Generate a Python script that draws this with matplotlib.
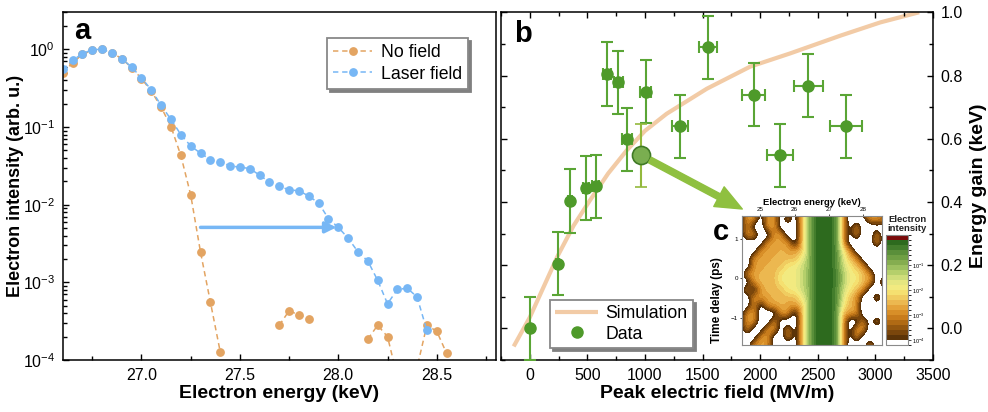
import numpy as np
import matplotlib
matplotlib.use("Agg")
import matplotlib.pyplot as plt
from matplotlib.colors import ListedColormap, BoundaryNorm
from matplotlib.ticker import MultipleLocator, FixedLocator, FormatStrFormatter

plt.rcParams['font.family'] = ['Liberation Sans', 'DejaVu Sans']
plt.rcParams['mathtext.fontset'] = 'custom'
plt.rcParams['mathtext.rm'] = 'Liberation Sans'
plt.rcParams['mathtext.it'] = 'Liberation Sans:italic'
plt.rcParams['mathtext.bf'] = 'Liberation Sans:bold'

# ---- panel a: spectra (energy grid in keV, 0.05 keV steps) ----
energy = np.round(np.arange(26.60, 28.56, 0.05), 2)
laser_field = [0.55, 0.72, 0.88, 0.99, 1.0, 0.90, 0.76, 0.59, 0.43, 0.30,
               0.19, 0.125, 0.080, 0.057, 0.046, 0.038, 0.0356, 0.0316, 0.0304, 0.0292,
               0.024, 0.0195, 0.0173, 0.0155, 0.0151, 0.0129, 0.0105, 0.0066, 0.0051, 0.0037,
               0.00247, 0.00188, 0.00106, 0.00053, 0.00081, 0.00084, 0.00065, 0.00024, np.nan, np.nan]
no_field = [0.50, 0.67, 0.86, 0.97, 1.0, 0.90, 0.76, 0.58, 0.42, 0.29,
            0.18, 0.101, 0.043, 0.0134, 0.00245, 0.00056, 0.000128, np.nan, np.nan, np.nan,
            np.nan, np.nan, 0.00028, 0.00043, 0.00038, 0.00034, np.nan, np.nan, np.nan, np.nan,
            np.nan, 0.000186, 0.00028, 0.0002, 0.00006, 0.00003, 0.00008, 0.00028, 0.000235, 0.000122]

# ---- panel b: energy gain vs peak field ----
field = [0, 243, 347, 491, 572, 671, 769, 844, 968, 1006, 1303, 1546, 1942, 2173, 2416, 2746]
field_err = [0, 12, 17, 25, 29, 34, 38, 42, 48, 50, 66, 80, 100, 111, 126, 142]
gain = [0.0, 0.205, 0.403, 0.444, 0.449, 0.805, 0.779, 0.598, 0.547, 0.749,
        0.639, 0.889, 0.739, 0.547, 0.768, 0.639]
gain_err = [0.1] * len(gain)
highlight = 8  # the point shown in the inset

sim_field = [-140, 0, 243, 380, 522, 680, 841, 1000, 1188, 1536, 1913, 2261, 2696, 3043, 3380]
sim_gain = [-0.057, 0.035, 0.23, 0.325, 0.405, 0.49, 0.563, 0.625, 0.679, 0.758,
            0.828, 0.870, 0.926, 0.968, 1.0]

# ---- panel c: coarse delay/energy map, one char per cell (log-intensity code) ----
inset_energy = np.round(np.arange(24.4, 28.61, 0.2), 1)
inset_delay = np.round(np.arange(1.7, -1.71, -0.2), 1)
inset_rows = [
    "022022000" "3699983" "002220",
    "022022020" "3699983" "000222",
    "020022000" "3699983" "020000",
    "022002200" "3699983" "020020",
    "000022220" "3699983" "000020",
    "000222322" "3699984" "200000",
    "002223333" "4699985" "320000",
    "002233344" "5699985" "432000",
    "022333444" "5699986" "443200",
    "002333444" "5699986" "443202",
    "020233344" "5699985" "432000",
    "002223333" "4699985" "320020",
    "002022322" "3699984" "320000",
    "022000220" "3699983" "220000",
    "022002000" "3699983" "002020",
    "020022020" "3699983" "022000",
    "000220020" "3699983" "020000",
    "002220000" "3699983" "000200",
]
code_log = {'0': -4.6, '1': -3.6, '2': -2.75, '3': -2.5, '4': -1.9,
            '5': -1.5, '6': -1.1, '7': -0.6, '8': -0.3, '9': -0.05}

cb_colors = ['#ffffff', '#5c3408', '#7a460c', '#94570f', '#b06a14', '#c87c1c',
             '#d88f28', '#e4a23a', '#ecb850', '#f0cc60', '#f5e070', '#f2ea80',
             '#e5e680', '#cfdd7a', '#b5cf6b', '#9dc060', '#85ad50', '#6f9f44',
             '#5a8f3a', '#437d2c', '#2d6a1e', '#7a0a0a']

orange = '#e3a462'
blue = '#77b7f5'
green = '#4e9a2a'
green_bar = '#5aa535'
peach = '#f2cba6'

fig = plt.figure(figsize=(9.88, 4.12), dpi=100)
ax_a = fig.add_axes([0.0635, 0.1262, 0.4383, 0.844])
ax_b = fig.add_axes([0.5071, 0.1262, 0.4372, 0.844])

# panel a
ax_a.plot(energy, no_field, '--o', color=orange, ms=5.3, lw=1.1, dashes=(3.5, 2.5),
          label='No field')
ax_a.plot(energy, laser_field, '--o', color=blue, ms=5.3, lw=1.1, dashes=(3.5, 2.5),
          label='Laser field')
ax_a.annotate('', xy=(27.99, 0.0051), xytext=(27.3, 0.0051),
              arrowprops=dict(arrowstyle='-|>', color=blue, lw=2.5,
                              mutation_scale=16, shrinkA=0, shrinkB=0))
ax_a.set_yscale('log')
ax_a.set_xlim(26.6, 28.8)
ax_a.set_ylim(1e-4, 3)
ax_a.xaxis.set_major_locator(FixedLocator([27.0, 27.5, 28.0, 28.5]))
ax_a.xaxis.set_major_formatter(FormatStrFormatter('%.1f'))
ax_a.xaxis.set_minor_locator(MultipleLocator(0.25))
ax_a.tick_params(which='both', direction='in', labelsize=11.5, width=1)
ax_a.tick_params(which='major', length=4.5, pad=5.5)
ax_a.tick_params(which='minor', length=3)
ax_a.set_xlabel('Electron energy (keV)', fontsize=14, fontweight='bold', labelpad=2)
ax_a.set_ylabel('Electron intensity (arb. u.)', fontsize=13, fontweight='bold', labelpad=-1)
ax_a.text(0.026, 0.922, 'a', transform=ax_a.transAxes, fontsize=21,
          fontweight='bold', va='baseline', ha='left')
leg = ax_a.legend(loc='upper right', bbox_to_anchor=(0.936, 0.926), fontsize=12.7,
                  fancybox=False, edgecolor='#888888', framealpha=1,
                  shadow={'color': '0.5', 'alpha': 1}, handlelength=2.2,
                  borderpad=0.35, labelspacing=0.25, handletextpad=0.5,
                  borderaxespad=0)
leg.get_frame().set_linewidth(1.3)

# panel b
ax_b.plot(sim_field, sim_gain, color=peach, lw=3, solid_capstyle='butt', zorder=1,
          label='Simulation')
idx = [i for i in range(len(field)) if i != highlight]
data = ax_b.errorbar([field[i] for i in idx], [gain[i] for i in idx],
                     yerr=[gain_err[i] for i in idx], xerr=[field_err[i] for i in idx],
                     fmt='o', ms=8, color=green, ecolor=green_bar, elinewidth=1.5,
                     capsize=4, capthick=1.5, zorder=3)
ax_b.errorbar([field[highlight]], [gain[highlight]], yerr=[gain_err[highlight]],
              xerr=[field_err[highlight]], fmt='o', ms=13, mfc='#7aae50',
              mec='#3f7a25', mew=1.2, ecolor='#93b93c', elinewidth=1.5,
              capsize=4, capthick=1.5, zorder=4)
ax_b.annotate('', xy=(0.7513, 0.4927), xycoords='figure fraction',
              xytext=(field[highlight], gain[highlight]), textcoords='data',
              arrowprops=dict(arrowstyle='simple,head_length=1.9,head_width=1.6,tail_width=0.45',
                              color='#8fc040', mutation_scale=10, shrinkA=7, shrinkB=0),
              zorder=5)
ax_b.set_xlim(-250, 3500)
ax_b.set_ylim(-0.1, 1.0)
ax_b.xaxis.set_major_locator(MultipleLocator(500))
ax_b.xaxis.set_minor_locator(MultipleLocator(250))
ax_b.yaxis.set_major_locator(MultipleLocator(0.2))
ax_b.yaxis.set_minor_locator(MultipleLocator(0.1))
ax_b.yaxis.set_major_formatter(FormatStrFormatter('%.1f'))
ax_b.yaxis.set_label_position('right')
ax_b.tick_params(which='both', direction='in', labelsize=11.5, width=1,
                 top=True, left=True, right=True, labelleft=False, labelright=True)
ax_b.tick_params(which='major', length=4.5, pad=5.5)
ax_b.tick_params(which='minor', length=3)
ax_b.set_xlabel('Peak electric field (MV/m)', fontsize=14, fontweight='bold', labelpad=2)
ax_b.set_ylabel('Energy gain (keV)', fontsize=14, fontweight='bold', labelpad=5)
ax_b.text(0.030, 0.915, 'b', transform=ax_b.transAxes, fontsize=21,
          fontweight='bold', va='baseline', ha='left')
leg_b = ax_b.legend(handles=[ax_b.lines[0], data[0]], labels=['Simulation', 'Data'],
                    loc='lower left', bbox_to_anchor=(0.113, 0.035), fontsize=12.7,
                    fancybox=False, edgecolor='#888888', framealpha=1,
                    shadow={'color': '0.5', 'alpha': 1}, handlelength=2.45,
                    borderpad=0.3, labelspacing=0.2, handletextpad=0.4,
                    borderaxespad=0)
leg_b.get_frame().set_linewidth(1.3)

for ax in (ax_a, ax_b):
    for s in ax.spines.values():
        s.set_linewidth(1.1)

# panel c inset
ax_c = fig.add_axes([0.7507, 0.1626, 0.1417, 0.3138])
z = np.array([[code_log[c] for c in row] for row in inset_rows])
cb_levels = np.concatenate([[-4.2], np.linspace(-4, 0, 21), [0.24]])
cmap = ListedColormap(cb_colors)
cmap.set_under('white')
cmap.set_over(cb_colors[-1])
norm = BoundaryNorm(cb_levels, cmap.N)
half = 0.1
im = ax_c.imshow(z, cmap=cmap, norm=norm, aspect='auto', interpolation='bicubic',
                 interpolation_stage='data',
                 extent=(inset_energy[0] - half, inset_energy[-1] + half,
                         inset_delay[-1] - half, inset_delay[0] + half))
ax_c.set_xlim(24.45, 28.55)
ax_c.set_ylim(-1.7, 1.6)
ax_c.xaxis.tick_top()
ax_c.xaxis.set_label_position('top')
ax_c.set_xticks([25, 26, 27, 28])
ax_c.set_yticks([-1, 0, 1])
ax_c.tick_params(labelsize=4.5, length=1.5, width=0.5, pad=1)
ax_c.set_xlabel('Electron energy (keV)', fontsize=6.8, fontweight='bold', labelpad=1.5)
ax_c.set_ylabel('Time delay (ps)', fontsize=8.5, fontweight='bold')
ax_c.yaxis.set_label_coords(-0.13, 0.35)
for s in ax_c.spines.values():
    s.set_color('#8a8a8a')
    s.set_linewidth(0.8)
fig.text(0.7213, 0.4175, 'c', fontsize=21, fontweight='bold', va='baseline', ha='left')

cax = fig.add_axes([0.8968, 0.1626, 0.0223, 0.267])
cb = fig.colorbar(im, cax=cax, boundaries=cb_levels)
cb.set_ticks([-4, -3, -2, -1])
cb.set_ticklabels(['$10^{-4}$', '$10^{-3}$', '$10^{-2}$', '$10^{-1}$'])
cb.ax.tick_params(labelsize=4, length=2, width=0.5, pad=1)
cb.outline.set_edgecolor('#8a8a8a')
cb.outline.set_linewidth(0.8)
fig.text(0.9185, 0.4345, 'Electron\nintensity', fontsize=6.8, fontweight='bold',
         ha='center', va='bottom', linespacing=1.05, color='#222222')

fig.savefig('out.png', dpi=100)
